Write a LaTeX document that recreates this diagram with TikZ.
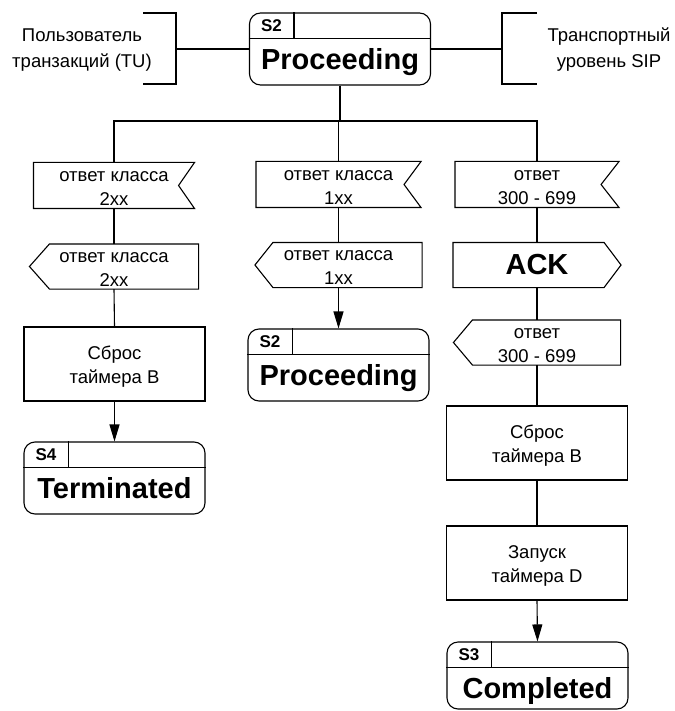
\documentclass[tikz,border=0pt]{standalone}
\usepackage{fontspec}
\setmainfont{Liberation Sans}
\usetikzlibrary{arrows.meta,calc}
\tikzset{
  base/.style={font=\fontsize{18.5}{24}\selectfont, align=center, inner sep=0pt},
  sendsig/.style={inner sep=0pt, minimum height=44pt, minimum width=167pt},
  recvsig/.style={inner sep=0pt, minimum height=45pt, minimum width=162pt},
  actbox/.style={inner sep=0pt, draw, minimum width=181pt, minimum height=74pt},
  statebox/.style={draw, rounded corners=11pt, minimum width=181pt, inner sep=0pt},
  bigname/.style={font=\fontsize{29}{34}\bfseries\selectfont, inner sep=0pt, anchor=base},
  tagname/.style={font=\fontsize{17}{18}\bfseries\selectfont, inner sep=0pt, anchor=base},
  sidetext/.style={font=\fontsize{18.5}{26}\selectfont, align=center, inner sep=0pt},
  arr/.style={-{Triangle[length=17pt,width=10pt]}},
}
\newcommand{\stnode}[5]{%
  \node[statebox, minimum height=#5] (#1) at (#2) {};
  \draw ([yshift=-26pt]#1.north west) -- ([yshift=-26pt]#1.north east);
  \draw ([xshift=45pt]#1.north west) -- ([xshift=45pt,yshift=-26pt]#1.north west);
  \node[tagname] (#1t) at ([xshift=22.5pt,yshift=-19pt]#1.north west) {#3};
  \node[bigname] (#1l) at ([yshift=-57pt]#1.north) {#4};
}
\newcommand{\inner}[2]{\node[base] (#1x) at ([yshift=-3pt]#1.center) {#2};}
\newcommand{\recvoutline}[2]{%
  \draw (#1.north west) -- (#1.north east) -- ([xshift=-#2]#1.east) -- (#1.south east) -- (#1.south west) -- cycle;}
\newcommand{\sendleft}[2]{%
  \draw ([xshift=#2]#1.north west) -- (#1.north east) -- (#1.south east) -- ([xshift=#2]#1.south west) -- (#1.west) -- cycle;}
\newcommand{\sendright}[2]{%
  \draw (#1.north west) -- ([xshift=-#2]#1.north east) -- (#1.east) -- ([xshift=-#2]#1.south east) -- (#1.south west) -- cycle;}
\begin{document}
\begin{tikzpicture}[x=1pt,y=-1pt,line width=1.1pt]
\useasboundingbox (0,0) rectangle (674,711);

% top state
\stnode{top}{340,49}{S2}{Proceeding}{72pt}
% side brackets
\draw (143,13) -- (176,13) -- (176,84) -- (143,84);
\draw (537,13) -- (502,13) -- (502,84) -- (537,84);
\coordinate (lbr) at (176,49);
\coordinate (rbr) at (502,49);
\draw (lbr) -- (top.west);
\draw (top.east) -- (rbr);
\node[sidetext] (tu) at (82,50) {Пользователь\\транзакций (TU)};
\node[sidetext] (sip) at (609,50) {Транспортный\\уровень SIP};

% left column
\node[recvsig, minimum width=160pt] (l1) at (114,185.5) {};
\recvoutline{l1}{16pt}
\inner{l1}{ответ класса\\2xx}
\node[sendsig, minimum width=168pt] (l2) at (114,266.5) {};
\sendleft{l2}{20pt}
\inner{l2}{ответ класса\\2xx}
\node[actbox] (l3) at (114.5,364) {};
\inner{l3}{Сброс\\таймера В}
\stnode{l4}{114.5,478}{S4}{Terminated}{72pt}

% middle column
\node[recvsig, minimum width=164pt] (m1) at (338.5,184.5) {};
\recvoutline{m1}{17pt}
\inner{m1}{ответ класса\\1xx}
\node[sendsig, minimum width=166pt] (m2) at (338.5,265) {};
\sendleft{m2}{18pt}
\inner{m2}{ответ класса\\1xx}
\stnode{m3}{338.5,365}{S2}{Proceeding}{72pt}

% right column
\node[recvsig, minimum width=163pt] (r1) at (537,184.5) {};
\recvoutline{r1}{18pt}
\inner{r1}{ответ\\300 - 699}
\node[sendsig, font=\fontsize{29}{34}\bfseries\selectfont] (r2) at (537,265) {ACK};
\sendright{r2}{17pt}
\node[sendsig, minimum width=166pt] (r3) at (537,342.5) {};
\sendleft{r3}{19pt}
\inner{r3}{ответ\\300 - 699}
\node[actbox] (r4) at (537,443) {};
\inner{r4}{Сброс\\таймера В}
\node[actbox] (r5) at (537,563) {};
\inner{r5}{Запуск\\таймера D}
\stnode{r6}{537.5,675.5}{S3}{Completed}{67pt}

% bus
\coordinate (busL) at (114,121);
\coordinate (busR) at (537,121);
\draw (top.south) -- (top.south |- busL);
\draw (l1.north) -- (busL) -- (busR) -- (r1.north);
\draw (m1.north) -- (m1.north |- busL);

% connectors
\draw (l1.south) -- (l2.north);
\draw (l2.south) -- (l3.north);
\draw[arr] (l3.south) -- (l4.north);
\draw (m1.south) -- (m2.north);
\draw[arr] (m2.south) -- (m3.north);
\draw (r1.south) -- (r2.north);
\draw (r2.south) -- (r3.north);
\draw (r3.south) -- (r4.north);
\draw (r4.south) -- (r5.north);
\draw[arr] (r5.south) -- (r6.north);
\end{tikzpicture}
\end{document}
